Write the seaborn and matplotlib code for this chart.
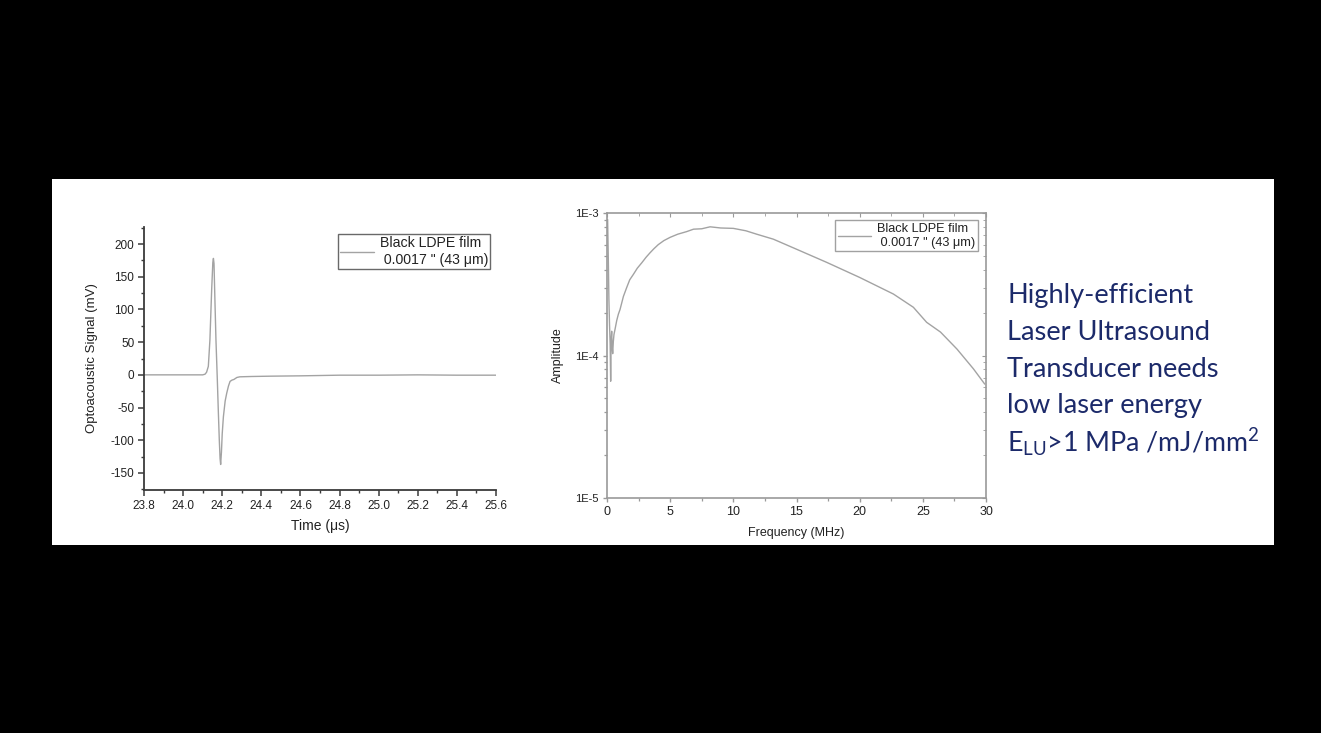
import numpy as np
import pandas as pd
import seaborn as sns
import matplotlib
matplotlib.use("Agg")
import matplotlib.pyplot as plt
from matplotlib.patches import Rectangle
from matplotlib.ticker import MultipleLocator, LogLocator, NullFormatter, FixedLocator

# Optoacoustic pulse, black LDPE film
time_us = [23.80, 24.00, 24.100, 24.112, 24.120, 24.129, 24.137, 24.146, 24.152, 24.155,
           24.158, 24.163, 24.168, 24.175, 24.180, 24.185, 24.189, 24.192, 24.196, 24.200,
           24.206, 24.215, 24.223, 24.232, 24.240, 24.250, 24.260, 24.275, 24.290, 24.350,
           24.450, 24.600, 24.800, 25.000, 25.200, 25.400, 25.600]
signal_mv = [0, 0, 0, 1, 4, 13, 53, 130, 172, 178,
             170, 110, 53, -8, -55, -99, -128, -137, -118, -90,
             -64, -40, -28, -17, -10, -8, -7, -4, -3, -2.5,
             -2, -1.5, -0.5, -0.5, 0, -0.5, -0.5]

# Amplitude spectrum of the same pulse
freq_mhz = [0.05, 0.10, 0.15, 0.20, 0.25, 0.29, 0.33, 0.37, 0.41, 0.45, 0.50, 0.55,
            0.65, 0.77, 0.90, 1.03, 1.30, 1.56, 1.80, 2.08, 2.40, 2.75, 3.10, 3.40,
            3.70, 4.06, 4.50, 5.00, 5.60, 6.30, 6.85, 7.50, 8.16, 9.00, 10.0, 11.0,
            11.85, 13.17, 15.0, 17.4, 20.0, 22.67, 24.25, 25.3, 26.4, 27.7, 29.0, 29.9]
amplitude = [9.0e-4, 5.0e-4, 2.5e-4, 1.64e-4, 1.2e-4, 6.6e-5, 1.3e-4, 1.48e-4, 1.15e-4,
             1.03e-4, 1.25e-4, 1.4e-4, 1.55e-4, 1.76e-4, 1.95e-4, 2.1e-4, 2.6e-4, 3.0e-4,
             3.4e-4, 3.7e-4, 4.1e-4, 4.47e-4, 4.9e-4, 5.25e-4, 5.6e-4, 6.0e-4, 6.4e-4,
             6.75e-4, 7.1e-4, 7.4e-4, 7.7e-4, 7.75e-4, 8.0e-4, 7.85e-4, 7.8e-4, 7.5e-4,
             7.1e-4, 6.55e-4, 5.57e-4, 4.5e-4, 3.53e-4, 2.7e-4, 2.18e-4, 1.71e-4, 1.46e-4,
             1.11e-4, 8.07e-5, 6.3e-5]

legend_label = "Black LDPE film\n 0.0017 \" (43 \u03bcm)"
side_lines = ["Highly-efficient", "Laser Ultrasound", "Transducer needs", "low laser energy"]

sns.set_style("ticks")
plt.rcParams["font.family"] = ["Liberation Sans", "DejaVu Sans"]
plt.rcParams["axes.unicode_minus"] = False
plt.rcParams["mathtext.fontset"] = "custom"
plt.rcParams["mathtext.rm"] = "Lato"
plt.rcParams["mathtext.it"] = "Lato"

W, H = 1321, 733
fig = plt.figure(figsize=(W / 100, H / 100), dpi=100, facecolor="black")

# white slide panel behind everything
fig.patches.append(Rectangle((52 / W, 1 - 545 / H), (1274 - 52) / W, (545 - 179) / H,
                             transform=fig.transFigure, facecolor="white",
                             edgecolor="none", zorder=-10))

def fig_rect(x0, y0, x1, y1):
    return [x0 / W, 1 - y1 / H, (x1 - x0) / W, (y1 - y0) / H]

line_col = "#a3a3a3"
fs = 8.5
leg_fs = 10.2

# ---- left: time-domain signal ----
ax1 = fig.add_axes(fig_rect(144, 227, 496, 490))
ax1.set_zorder(2)
ax1.set_facecolor("white")
df1 = pd.DataFrame({"t": time_us, "s": signal_mv})
sns.lineplot(data=df1, x="t", y="s", ax=ax1, color=line_col, lw=1.0,
             estimator=None, sort=False, label=legend_label)
ax1.set_xlim(23.8, 25.6)
ax1.set_ylim(-176, 226)
ax1.xaxis.set_major_locator(MultipleLocator(0.2))
ax1.xaxis.set_minor_locator(MultipleLocator(0.1))
ax1.yaxis.set_major_locator(FixedLocator([-150, -100, -50, 0, 50, 100, 150, 200]))
ax1.yaxis.set_minor_locator(MultipleLocator(25))
ax1.xaxis.set_major_formatter(matplotlib.ticker.FormatStrFormatter("%.1f"))
for s in ("top", "right"):
    ax1.spines[s].set_visible(False)
for s in ("left", "bottom"):
    ax1.spines[s].set_color("#3a3a3a")
    ax1.spines[s].set_linewidth(1.3)
ax1.tick_params(which="major", length=4, width=1.1, color="#3a3a3a",
                labelsize=fs, labelcolor="#222222", pad=3)
ax1.tick_params(which="minor", length=2.5, width=1.0, color="#3a3a3a")
ax1.set_xlabel("Time (\u03bcs)", fontsize=10, color="#222222", labelpad=5)
ax1.set_ylabel("Optoacoustic Signal (mV)", fontsize=9.5, color="#222222", labelpad=9)
leg1 = ax1.legend(loc="upper right", bbox_to_anchor=(0.983, 0.972), fontsize=leg_fs,
                  frameon=True, fancybox=False, handlelength=2.4, handletextpad=0.4,
                  borderpad=0.15, borderaxespad=0, labelspacing=0.2)
leg1.get_frame().set_edgecolor("#444444")
leg1.get_frame().set_linewidth(1.0)
for t in leg1.get_texts():
    t.set_color("#222222")

# ---- right: amplitude spectrum ----
ax2 = fig.add_axes(fig_rect(607, 213, 986, 498))
ax2.set_zorder(2)
ax2.set_facecolor("white")
df2 = pd.DataFrame({"f": freq_mhz, "a": amplitude})
sns.lineplot(data=df2, x="f", y="a", ax=ax2, color=line_col, lw=1.0,
             estimator=None, sort=False, label=legend_label)
ax2.set_yscale("log")
ax2.set_xlim(0, 30)
ax2.set_ylim(1e-5, 1e-3)
ax2.xaxis.set_major_locator(MultipleLocator(5))
ax2.xaxis.set_minor_locator(MultipleLocator(2.5))
ax2.yaxis.set_major_locator(FixedLocator([1e-5, 1e-4, 1e-3]))
ax2.yaxis.set_major_formatter(matplotlib.ticker.FixedFormatter(["1E-5", "1E-4", "1E-3"]))
ax2.yaxis.set_minor_locator(LogLocator(base=10, subs=np.arange(2, 10)))
ax2.yaxis.set_minor_formatter(NullFormatter())
for s in ax2.spines.values():
    s.set_color("#9a9a9a")
    s.set_linewidth(1.2)
ax2.tick_params(which="major", length=3, width=1.0, color="#9a9a9a",
                labelcolor="#222222", pad=3)
ax2.tick_params(axis="x", which="major", labelsize=9)
ax2.tick_params(axis="y", which="major", labelsize=8)
ax2.tick_params(which="minor", length=2, width=0.9, color="#9a9a9a")

# inward ticks along the top and right edges of the frame
top = ax2.secondary_xaxis("top")
top.xaxis.set_major_locator(MultipleLocator(5))
top.xaxis.set_minor_locator(MultipleLocator(2.5))
top.tick_params(which="both", direction="in", labeltop=False, color="#9a9a9a")
top.tick_params(which="major", length=3)
top.tick_params(which="minor", length=2)
top.spines["top"].set_visible(False)
right = ax2.secondary_yaxis("right")
right.set_yscale("log")
right.yaxis.set_major_locator(FixedLocator([1e-5, 1e-4, 1e-3]))
right.yaxis.set_minor_locator(LogLocator(base=10, subs=np.arange(2, 10)))
right.yaxis.set_minor_formatter(NullFormatter())
right.tick_params(which="both", direction="in", labelright=False, color="#9a9a9a")
right.tick_params(which="major", length=3)
right.tick_params(which="minor", length=2)
right.spines["right"].set_visible(False)

ax2.set_xlabel("Frequency (MHz)", fontsize=fs + 0.5, color="#222222", labelpad=6)
ax2.set_ylabel("Amplitude", fontsize=fs + 0.5, color="#222222", labelpad=8)
leg2 = ax2.legend(loc="upper right", bbox_to_anchor=(0.979, 0.974), fontsize=fs + 0.7,
                  frameon=True, fancybox=False, handlelength=2.6, handletextpad=0.5,
                  borderpad=0.2, borderaxespad=0, labelspacing=0.2)
leg2.get_frame().set_edgecolor("#8a8a8a")
leg2.get_frame().set_linewidth(1.0)
for t in leg2.get_texts():
    t.set_color("#222222")

# ---- side note ----
navy = "#1c2a6a"
y0 = 296
step = 36.6
for i, line in enumerate(side_lines):
    fig.text(1007 / W, 1 - (y0 + i * step) / H, line, fontsize=19.6,
             family=["Lato", "DejaVu Sans"], color=navy, va="center", ha="left")
fig.text(1007 / W, 1 - (y0 + 4 * step) / H, r"E$_{\mathrm{LU}}$>1 MPa /mJ/mm$^{\mathrm{2}}$",
         fontsize=19.3, family=["Lato", "DejaVu Sans"], color=navy, va="center", ha="left")

fig.savefig("out.png", dpi=100, facecolor="black")
